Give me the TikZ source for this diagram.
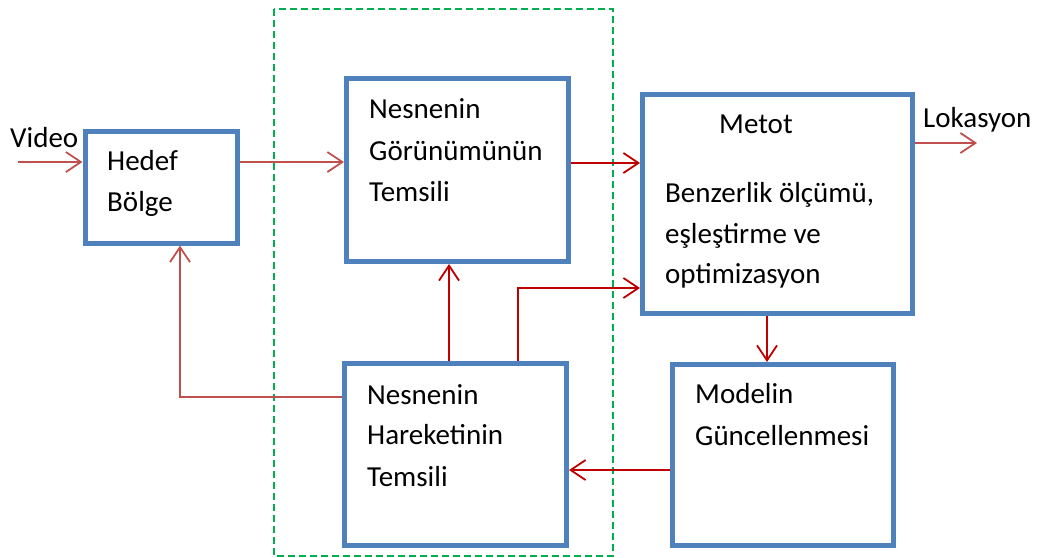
\documentclass[tikz,border=0pt]{standalone}
\usepackage{fontspec}
\setmainfont{Carlito}
\usetikzlibrary{arrows.meta,calc}
\definecolor{boxblue}{HTML}{4F81BD}
\definecolor{lightred}{HTML}{C0504D}
\definecolor{darkred}{HTML}{C00000}
\definecolor{grp}{HTML}{00B050}
\tikzset{
  blockbox/.style={draw=boxblue,line width=5pt,rectangle,inner sep=0pt,fill=none},
  lbl/.style={anchor=base west,inner sep=0pt,font=\fontsize{29}{34}\selectfont},
  arrlight/.style={draw=lightred,line width=1.8pt,-{Straight Barb[length=15pt,width=20pt]}},
  arrdark/.style={draw=darkred,line width=1.8pt,-{Straight Barb[length=15pt,width=20pt]}},
  grpbox/.style={draw=grp,line width=1.4pt,dash pattern=on 7pt off 4pt}
}
\begin{document}
\begin{tikzpicture}[x=1pt,y=-1pt]
\useasboundingbox (0,0) rectangle (1041,557);
% group
\draw[grpbox] (274,9) rectangle (613,556);
% boxes
\node[blockbox,minimum width=152.5pt,minimum height=112pt] (hedef) at (161.25,187) {};
\node[blockbox,minimum width=222pt,minimum height=183pt] (gor) at (457.5,170) {};
\node[blockbox,minimum width=270pt,minimum height=219pt] (metot) at (777.5,204) {};
\node[blockbox,minimum width=222pt,minimum height=182pt] (har) at (455.5,454.5) {};
\node[blockbox,minimum width=221pt,minimum height=181pt] (model) at (783,455) {};
% texts
\node[lbl] (tvideo) at (10,147) {Video};
\node[lbl] (th1) at (107,170) {Hedef};
\node[lbl] (th2) at (107,211) {Bölge};
\node[lbl] (tg1) at (369,118) {Nesnenin};
\node[lbl] (tg2) at (369,160) {Görünümünün};
\node[lbl] (tg3) at (369,201) {Temsili};
\node[lbl] (tm0) at (719,133) {Metot};
\node[lbl] (tm1) at (665,202) {Benzerlik ölçümü,};
\node[lbl] (tm2) at (665,243) {eşleştirme ve};
\node[lbl] (tm3) at (665,283) {optimizasyon};
\node[lbl] (tr1) at (367,404) {Nesnenin};
\node[lbl] (tr2) at (367,444) {Hareketinin};
\node[lbl] (tr3) at (367,486) {Temsili};
\node[lbl] (tu1) at (695,403) {Modelin};
\node[lbl] (tu2) at (695,445) {Güncellenmesi};
\node[lbl] (tlok) at (923,127) {Lokasyon};
% helper coordinates
\coordinate (vin) at (18,162);
\coordinate (lokend) at (977,143);
\coordinate (ya) at (0,163);
\coordinate (yl) at (0,143);
\coordinate (ym) at (0,470);
\coordinate (yh) at (0,397);
\coordinate (yo) at (0,288);
\coordinate (xa) at (767,0);
\coordinate (xg) at (449,0);
\coordinate (xo) at (518,0);
\coordinate (xh) at (180,0);
% connectors
\draw[arrlight] (vin) -- (vin -| hedef.west);
\draw[arrlight] (hedef.east |- vin) -- (gor.west |- vin);
\draw[arrdark] (gor.east |- ya) -- (metot.west |- ya);
\draw[arrlight] (metot.east |- yl) -- (lokend);
\draw[arrdark] (metot.south -| xa) -- (model.north -| xa);
\draw[arrdark] (model.west |- ym) -- (har.east |- ym);
\draw[arrdark] (har.north -| xg) -- (gor.south -| xg);
\draw[arrdark] (har.north -| xo) |- (metot.west |- yo);
\draw[arrlight] (har.west |- yh) -| (hedef.south -| xh);
\end{tikzpicture}
\end{document}
